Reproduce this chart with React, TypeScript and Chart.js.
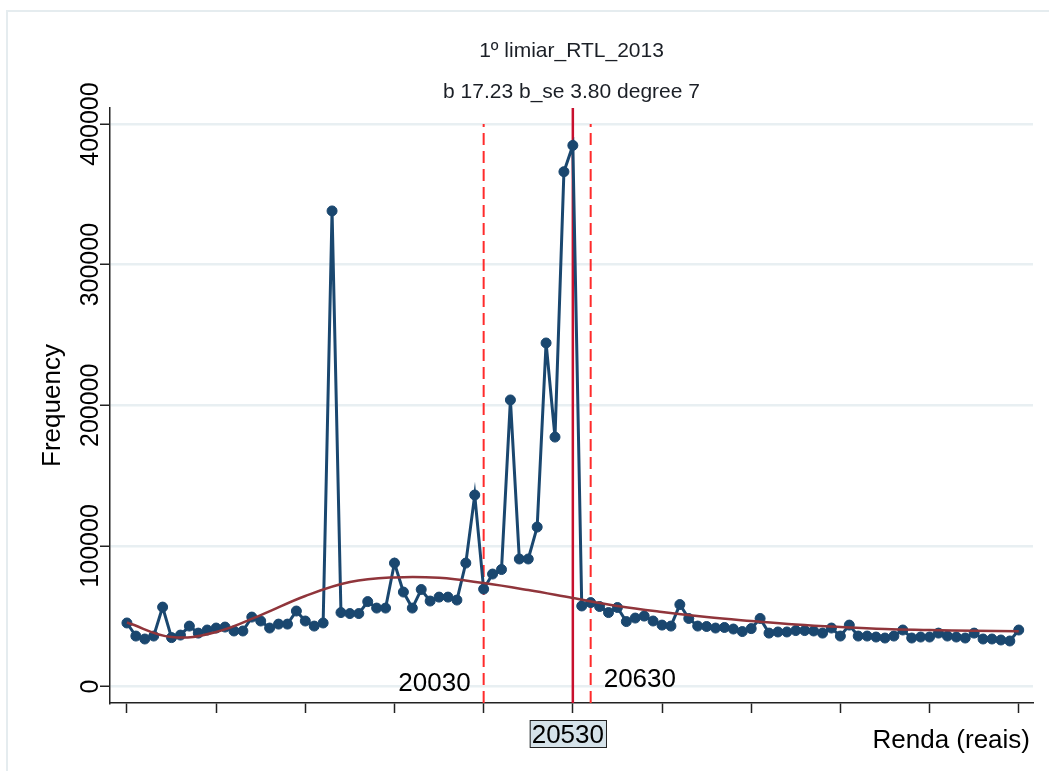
import React, { useEffect, useRef } from 'react';
import { Chart, registerables } from 'chart.js';

Chart.register(...registerables);

// Income bins (reais): first bin and bin width
const rendaStart = 18030;
const binWidth = 50;

// Observed frequency per income bin
const frequency = [
  45200, 35900, 33800, 35900, 56500, 34800, 36600, 43000, 38000, 40200,
  41600, 42300, 39500, 39500, 49400, 46600, 41600, 44400, 44400, 53700,
  46600, 43000, 45200, 338200, 52600, 51900, 51900, 60400, 55800, 55800,
  87800, 67200, 55800, 69000, 60800, 63600, 63600, 61500, 87800, 136200,
  69300, 80000, 83200, 203800, 90700, 90700, 113400, 244300, 177400, 366100,
  384800, 57300, 59700, 56900, 52600, 56200, 46200, 48700, 50100, 46600,
  43700, 43000, 58300, 48400, 43000, 42700, 41600, 42000, 40900, 39100,
  41200, 48400, 38000, 38800, 38800, 39800, 39800, 39500, 38000, 41600,
  35900, 43700, 35900, 35900, 35200, 34500, 35900, 40200, 34500, 35200,
  35200, 38000, 35900, 35200, 34500, 38000, 33800, 33800, 33100, 32400,
  40200,
];

// Degree-7 polynomial fit, sampled every fifth bin
const fitRenda = [
  18030, 18280, 18530, 18780, 19030, 19280, 19530, 19780, 20030, 20280,
  20530, 20780, 21030, 21280, 21530, 21780, 22030, 22280, 22530, 22780,
  23030,
];
const fitFrequency = [
  45500, 35200, 38800, 50800, 64400, 74300, 77600, 77300, 73600, 68600,
  62900, 57300, 53000, 49400, 46600, 44100, 42300, 40900, 40200, 39600,
  39400,
];

const xTicks = [18030, 18530, 19030, 19530, 20030, 20530, 21030, 21530, 22030, 22530, 23030];
const yTicks = [0, 100000, 200000, 300000, 400000];

const lowerBound = 20030;
const threshold = 20530;
const upperBound = 20630;

const titleText = '1º limiar_RTL_2013';
const subtitleText = 'b 17.23 b_se 3.80 degree 7';
const xTitle = 'Renda (reais)';
const yTitle = 'Frequency';

const Y_MIN = -11700;
const Y_MAX = 411400;
const FONT = '"Liberation Sans", Arial, Helvetica, sans-serif';

const decorPlugin = {
  id: 'decor',
  beforeDraw(chart: any) {
    const { ctx, width, height } = chart;
    ctx.save();
    ctx.fillStyle = '#ffffff';
    ctx.fillRect(0, 0, width, height);
    // outer graph region border
    ctx.strokeStyle = '#e5ecef';
    ctx.lineWidth = 2;
    ctx.beginPath();
    ctx.moveTo(7, height + 5);
    ctx.lineTo(7, 11);
    ctx.lineTo(width + 5, 11);
    ctx.stroke();
    ctx.restore();
  },
  afterDraw(chart: any) {
    const { ctx, chartArea } = chart;
    const x = chart.scales.x;
    const y = chart.scales.y;
    ctx.save();
    ctx.fillStyle = '#000';

    // titles
    const cx = (chartArea.left + chartArea.right) / 2;
    ctx.font = `21px ${FONT}`;
    ctx.textAlign = 'center';
    ctx.textBaseline = 'alphabetic';
    ctx.fillStyle = '#1b1f26';
    ctx.fillText(titleText, cx, 57);
    ctx.fillText(subtitleText, cx, 98);

    // y tick labels, rotated
    ctx.fillStyle = '#000';
    ctx.font = `25px ${FONT}`;
    yTicks.forEach((v) => {
      const py = y.getPixelForValue(v);
      ctx.save();
      ctx.translate(chartArea.left - 12, py);
      ctx.rotate(-Math.PI / 2);
      ctx.textAlign = 'center';
      ctx.fillText(String(v), 0, 0);
      ctx.restore();
    });

    // y axis title
    ctx.font = `26px ${FONT}`;
    ctx.save();
    ctx.translate(chartArea.left - 50, (chartArea.top + chartArea.bottom) / 2);
    ctx.rotate(-Math.PI / 2);
    ctx.textAlign = 'center';
    ctx.fillText(yTitle, 0, 0);
    ctx.restore();

    // x axis title
    ctx.textAlign = 'right';
    ctx.fillText(xTitle, chartArea.right - 3, 748);

    // bound labels
    ctx.textAlign = 'right';
    ctx.fillText(String(lowerBound), x.getPixelForValue(lowerBound) - 13, 691);
    ctx.textAlign = 'left';
    ctx.fillText(String(upperBound), x.getPixelForValue(upperBound) + 13, 687);

    // threshold label in a box under the axis
    const label = String(threshold);
    const tw = ctx.measureText(label).width;
    const bx = x.getPixelForValue(threshold) - 5;
    ctx.fillStyle = '#d5e2e9';
    ctx.fillRect(bx - tw / 2 - 2, 720, tw + 4, 27);
    ctx.strokeStyle = '#222';
    ctx.lineWidth = 1;
    ctx.strokeRect(bx - tw / 2 - 2 + 0.5, 720.5, tw + 4, 27);
    ctx.fillStyle = '#000';
    ctx.textAlign = 'center';
    ctx.fillText(label, bx, 743);

    ctx.restore();
  },
};

export default function App() {
  const canvasRef = useRef<HTMLCanvasElement | null>(null);

  useEffect(() => {
    const canvas = canvasRef.current;
    if (!canvas) return;

    const points = frequency.map((f, i) => ({ x: rendaStart + i * binWidth, y: f }));
    const fit = fitRenda.map((r, i) => ({ x: r, y: fitFrequency[i] }));

    const chart = new Chart(canvas, {
      type: 'line',
      data: {
        datasets: [
          {
            data: fit,
            borderColor: '#90353b',
            borderWidth: 2.5,
            pointRadius: 0,
            tension: 0.4,
            fill: false,
            order: 0,
          },
          {
            data: points,
            borderColor: '#1a476f',
            backgroundColor: '#1a476f',
            borderWidth: 3,
            pointRadius: 5,
            pointBorderWidth: 1,
            pointBorderColor: '#1a476f',
            pointBackgroundColor: '#1a476f',
            tension: 0,
            fill: false,
            order: 1,
          },
          {
            data: [{ x: lowerBound, y: Y_MIN }, { x: lowerBound, y: 400000 }],
            borderColor: '#ff2b2b',
            borderWidth: 2,
            borderDash: [12, 6],
            pointRadius: 0,
            fill: false,
            order: 2,
          },
          {
            data: [{ x: upperBound, y: Y_MIN }, { x: upperBound, y: 400000 }],
            borderColor: '#ff2b2b',
            borderWidth: 2,
            borderDash: [12, 6],
            pointRadius: 0,
            fill: false,
            order: 3,
          },
          {
            data: [{ x: threshold, y: Y_MIN }, { x: threshold, y: Y_MAX }],
            borderColor: '#c8102e',
            borderWidth: 2.5,
            pointRadius: 0,
            fill: false,
            order: 4,
          },
        ],
      },
      options: {
        responsive: false,
        animation: false,
        events: [],
        layout: { padding: { left: 0, top: 108, right: 16, bottom: 0 } },
        plugins: {
          legend: { display: false },
          tooltip: { enabled: false },
          title: { display: false },
        },
        scales: {
          x: {
            type: 'linear',
            min: 17935,
            max: 23110,
            afterBuildTicks: (s: any) => {
              s.ticks = xTicks.map((v) => ({ value: v }));
            },
            afterFit: (s: any) => {
              s.height = 68;
            },
            ticks: { callback: () => '', autoSkip: false },
            grid: {
              drawOnChartArea: false,
              drawTicks: true,
              tickLength: 10,
              tickColor: '#222',
              tickWidth: 1.5,
            },
            border: { display: true, color: '#222', width: 1.5 },
          },
          y: {
            type: 'linear',
            min: Y_MIN,
            max: Y_MAX,
            afterBuildTicks: (s: any) => {
              s.ticks = yTicks.map((v) => ({ value: v }));
            },
            afterFit: (s: any) => {
              s.width = 110;
            },
            ticks: { callback: () => '', autoSkip: false },
            grid: {
              color: '#e8eff2',
              lineWidth: 2.5,
              drawTicks: true,
              tickLength: 10,
              tickColor: '#222',
              tickWidth: 1.5,
            },
            border: { display: true, color: '#222', width: 1.5 },
          },
        },
      },
      plugins: [decorPlugin],
    });

    return () => chart.destroy();
  }, []);

  return (
    <div style={{ position: 'fixed', left: 0, top: 0, width: 1049, height: 771, background: '#fff' }}>
      <canvas ref={canvasRef} width={1049} height={771} style={{ width: 1049, height: 771, display: 'block' }} />
    </div>
  );
}
